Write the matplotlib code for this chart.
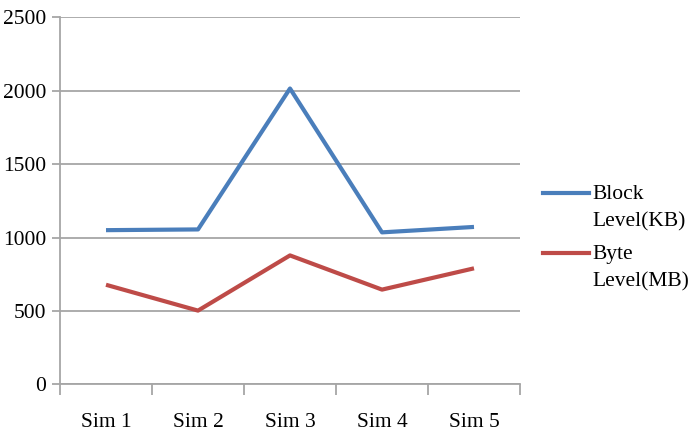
import matplotlib.pyplot as plt
from matplotlib.lines import Line2D

# simulation results
sims = ['Sim 1', 'Sim 2', 'Sim 3', 'Sim 4', 'Sim 5']
block_kb = [1050, 1055, 2015, 1035, 1072]
byte_mb = [678, 502, 878, 645, 790]

series = [('Block\nLevel(KB)', block_kb, '#4a7ebb'),
          ('Byte\nLevel(MB)', byte_mb, '#be4b48')]

plt.rcParams['font.family'] = 'Liberation Serif'
plt.rcParams['font.size'] = 15.5

fig = plt.figure(figsize=(6.93, 4.38), dpi=100)
ax = fig.add_axes([60 / 693, (438 - 384.3) / 438, 460 / 693, 367 / 438])

x = list(range(len(sims)))
for name, vals, color in series:
    ax.plot(x, vals, color=color, lw=3, solid_capstyle='butt', zorder=3)

ax.set_xlim(-0.5, len(sims) - 0.5)
ax.set_ylim(0, 2500)
ax.set_yticks(range(0, 2501, 500))
ax.yaxis.grid(True, color='#a6a6a6', lw=1.3)
ax.set_axisbelow(True)

# category ticks sit on the boundaries, labels in the middle
ax.set_xticks([i - 0.5 for i in range(len(sims) + 1)])
ax.set_xticklabels([])
ax.set_xticks(x, minor=True)
ax.set_xticklabels(sims, minor=True)
ax.tick_params(axis='x', which='major', length=8, width=1.3, color='#a6a6a6', direction='out')
ax.tick_params(axis='x', which='minor', length=0, pad=21)
ax.tick_params(axis='y', length=6, width=1.3, color='#a6a6a6', pad=4)

for side in ['top', 'right']:
    ax.spines[side].set_visible(False)
for side in ['left', 'bottom']:
    ax.spines[side].set_color('#a6a6a6')
    ax.spines[side].set_linewidth(1.3)

# legend drawn by hand so the key lines up with the first text line
for k, (name, vals, color) in enumerate(series):
    ykey = 1 - (193 + 60 * k) / 438
    fig.add_artist(Line2D([543 / 693, 589 / 693], [ykey, ykey], color=color, lw=3))
    fig.text(592 / 693, ykey + 8 / 438, name, va='top', ha='left', linespacing=1.55)

fig.savefig('out.png', dpi=100)
